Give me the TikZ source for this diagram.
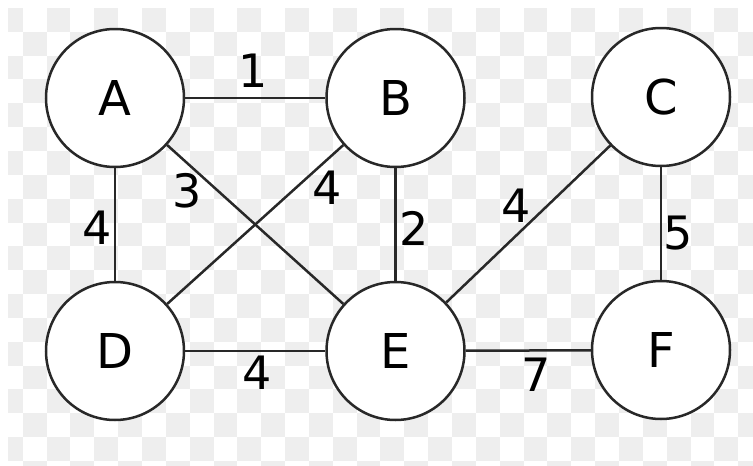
\documentclass[tikz,border=0pt]{standalone}
\usepackage{fontspec}
\setmainfont{DejaVu Sans}
\definecolor{checkgray}{RGB}{238,238,238}
\definecolor{edgecol}{RGB}{40,40,40}
\begin{document}
\begin{tikzpicture}[x=1pt,y=-1pt,
  vert/.style={circle,draw=edgecol,line width=2.5pt,fill=white,minimum size=138pt,inner sep=0pt,font=\fontsize{48}{48}\selectfont},
  edge/.style={draw=edgecol,line width=2.5pt},
  wlabel/.style={inner sep=0pt,font=\fontsize{46}{46}\selectfont}]
\useasboundingbox (0,0) rectangle (753,466);
\fill[white] (0,0) rectangle (753,466);
\begin{scope}
\clip (8,6) rectangle (753,466);
\foreach \i in {0,...,31}{
  \foreach \j in {0,...,19}{
    \pgfmathtruncatemacro\parsum{\i+\j}
    \ifodd\parsum\else
      \fill[checkgray] ({-1.15+23.85*\i},{7.85+23.85*\j}) rectangle ++(23.85,23.85);
    \fi
  }
}
\end{scope}
\node[vert] (A) at (115,98) {A};
\node[vert] (B) at (395.5,98) {B};
\node[vert] (C) at (661,97) {C};
\node[vert] (D) at (115,351) {D};
\node[vert] (E) at (395.5,351) {E};
\node[vert] (F) at (661,350) {F};
\draw[edge] (A) -- (B);
\draw[edge] (A) -- (D);
\draw[edge] (A) -- (E);
\draw[edge] (B) -- (D);
\draw[edge] (B) -- (E);
\draw[edge] (C) -- (E);
\draw[edge] (C) -- (F);
\draw[edge] (D) -- (E);
\draw[edge] (E) -- (F);
\node[wlabel] (lAB) at (253,71) {1};
\node[wlabel] (lAE) at (187,191) {3};
\node[wlabel] (lBD) at (327,188) {4};
\node[wlabel] (lBE) at (414,228) {2};
\node[wlabel] (lAD) at (97,228) {4};
\node[wlabel] (lCE) at (516,206) {4};
\node[wlabel] (lCF) at (678,233) {5};
\node[wlabel] (lEF) at (536,375) {7};
\node[wlabel] (lDE) at (257,373) {4};
\end{tikzpicture}
\end{document}
